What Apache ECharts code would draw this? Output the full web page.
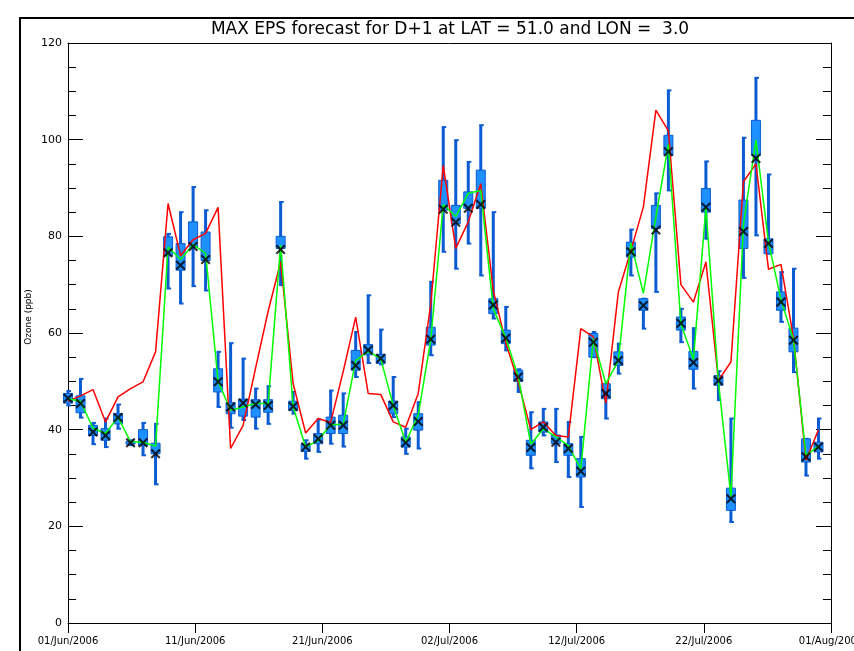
<!DOCTYPE html>
<html><head><meta charset="utf-8">
<script src="https://cdn.jsdelivr.net/npm/echarts@6/dist/echarts.min.js"></script>
<style>html,body{margin:0;padding:0;background:#fff}#c{width:854px;height:651px}</style>
</head><body><div id="c"></div>
<script>
// day index since 01/Jun/2006
const days = [0,1,2,3,4,5,6,7,8,9,10,11,12,13,14,15,16,17,18,19,20,21,22,23,24,25,26,27,28,29,30,
  31,32,33,34,35,36,37,38,39,40,41,42,43,44,45,46,47,48,49,50,51,52,53,54,55,56,57,58,59,60];
const tickLabels = ['01/Jun/2006','11/Jun/2006','21/Jun/2006','02/Jul/2006','12/Jul/2006','22/Jul/2006','01/Aug/2006'];
// observed (red)
const observed = [45.9,47.0,48.3,41.6,46.8,48.5,49.9,56.1,86.8,76.0,79.3,80.6,86.0,36.1,40.9,52.8,64.5,74.7,49.5,39.3,
  42.3,41.5,52.0,63.3,47.5,47.3,41.6,40.5,47.5,66.0,94.7,77.5,83.0,90.9,68.8,58.0,49.8,40.0,41.6,38.8,
  38.5,60.9,59.2,45.5,68.5,77.0,86.1,106.1,101.8,70.0,66.4,74.7,50.2,54.0,91.3,95.0,73.2,74.2,59.0,33.7,40.0];
// ensemble median (green)
const median = [46.4,45.9,40.3,39.2,42.6,37.5,37.4,36.6,77.8,75.2,78.3,76.5,50.0,44.0,44.7,45.4,45.4,78.2,44.7,36.4,
  37.8,41.0,41.1,54.3,56.2,54.7,45.0,37.4,43.0,58.6,86.6,84.1,88.9,89.5,65.0,59.0,50.9,37.0,40.2,38.5,
  36.7,31.9,58.8,49.5,54.3,78.7,68.2,84.0,99.0,61.9,54.5,86.0,49.9,26.2,82.5,99.9,78.8,66.9,58.6,34.7,36.6];
// control forecast (black crosses)
const control = [46.5,45.4,39.5,38.8,42.5,37.3,37.3,35.0,76.6,74.0,77.9,75.2,49.9,44.7,45.5,45.2,45.0,77.3,44.8,36.4,
  38.1,40.9,40.9,53.3,56.5,54.7,45.0,37.3,41.7,58.7,85.6,82.9,85.8,86.6,65.8,58.9,50.9,36.3,40.5,37.4,
  36.1,31.4,58.1,47.5,54.3,76.8,65.7,81.3,97.5,62.0,53.9,86.0,50.1,25.7,81.0,96.1,78.5,66.4,58.5,34.4,36.4];
// box (quartiles) and whiskers
const boxLow = [45.5,43.5,38.8,37.8,41.2,37.0,36.7,35.0,76.0,73.0,77.8,75.0,47.8,43.3,42.8,42.6,43.6,77.5,44.0,35.5,
  37.1,39.2,39.2,52.3,55.5,53.7,43.3,36.4,39.9,57.5,85.4,82.6,85.8,85.8,64.0,57.8,50.0,34.7,39.5,37.1,
  34.7,30.2,55.0,46.4,53.3,75.7,64.7,81.6,96.8,60.6,52.5,85.0,49.2,23.3,77.5,96.8,76.4,64.7,56.1,33.3,35.4];
const boxHigh = [47.5,47.0,40.9,40.2,43.3,37.6,40.0,37.2,79.9,78.5,83.0,80.9,52.6,45.6,46.3,46.2,46.2,80.0,45.9,37.0,
  39.2,42.6,43.0,56.4,57.6,55.6,45.9,38.5,43.3,61.2,91.6,86.4,89.2,93.7,67.1,60.6,52.3,37.8,41.6,38.9,
  37.1,34.0,59.9,49.5,56.1,78.8,67.1,86.4,100.9,63.3,56.2,89.9,51.2,27.9,87.5,104.0,79.5,68.5,61.0,38.1,37.4];
const whiskLow = [45.0,42.5,37.0,36.4,40.2,36.8,34.7,28.7,69.2,66.1,69.7,68.8,44.7,40.4,42.0,40.2,41.2,69.9,43.3,34.0,
  35.4,37.1,36.5,50.9,53.8,53.5,42.6,35.0,36.1,55.4,76.8,73.3,78.5,71.9,63.0,56.4,47.8,32.0,38.8,33.3,
  30.2,24.0,55.0,42.3,51.6,71.9,60.9,68.5,89.5,58.1,48.5,79.5,46.1,20.9,71.4,80.2,76.4,62.3,51.9,30.5,34.0];
const whiskHigh = [48.0,50.5,41.4,42.3,45.2,37.8,41.4,41.2,80.5,85.0,90.2,85.4,56.1,57.9,54.7,48.5,49.0,87.1,47.8,37.8,
  42.1,48.1,47.5,60.2,67.8,60.7,50.9,40.2,45.7,70.6,102.6,99.9,95.4,103.0,85.0,65.4,52.5,43.6,44.3,44.3,
  41.6,38.5,60.2,49.5,57.8,81.4,67.1,88.9,110.2,65.0,61.0,95.5,52.1,42.3,100.4,112.8,92.8,72.6,73.3,38.1,42.3];

const HOURS_PER_DAY = 24;
const xMax = 61 * HOURS_PER_DAY;
const xInterval = xMax / 6;

const chart = echarts.init(document.getElementById('c'), null, {renderer: 'canvas'});
const FONT = 'DejaVu Sans';
const BLUE_DARK = '#0B5BD3';
const BLUE_FILL = '#1E90FF';

function renderBox(params, api) {
  const x = api.value(0);
  const pLo = api.coord([x, api.value(1)]);
  const pQ1 = api.coord([x, api.value(2)]);
  const pQ3 = api.coord([x, api.value(3)]);
  const pHi = api.coord([x, api.value(4)]);
  const cx = pLo[0];
  const bw = 9;
  return {
    type: 'group',
    children: [
      {type: 'line', shape: {x1: cx, y1: pHi[1], x2: cx, y2: pLo[1]}, style: {stroke: BLUE_DARK, lineWidth: 3}},
      {type: 'line', shape: {x1: cx - 1.5, y1: pHi[1], x2: cx + 3, y2: pHi[1]}, style: {stroke: BLUE_DARK, lineWidth: 2}},
      {type: 'line', shape: {x1: cx - 1.5, y1: pLo[1], x2: cx + 3, y2: pLo[1]}, style: {stroke: BLUE_DARK, lineWidth: 2}},
      {type: 'rect', shape: {x: cx - bw / 2, y: pQ3[1], width: bw, height: Math.max(1, pQ1[1] - pQ3[1])},
       style: {fill: BLUE_FILL, stroke: BLUE_DARK, lineWidth: 1}}
    ]
  };
}

const yAxisCommon = {
  type: 'value', min: 0, max: 120, interval: 20,
  axisLine: {show: true, onZero: false, lineStyle: {color: '#000', width: 1}},
  axisTick: {show: true, inside: true, length: 15, lineStyle: {color: '#000', width: 1}},
  minorTick: {show: true, splitNumber: 4, length: 8, lineStyle: {color: '#000', width: 1}},
  splitLine: {show: false}, minorSplitLine: {show: false}
};

const option = {
  animation: false,
  backgroundColor: '#ffffff',
  grid: {left: 68, right: 23, top: 43, bottom: 28, containLabel: false, outerBoundsMode: 'none'},
  xAxis: [
    {
      type: 'value', position: 'bottom', min: 0, max: xMax, interval: xInterval,
      axisLine: {show: true, onZero: false, lineStyle: {color: '#000', width: 1}},
      axisTick: {show: true, inside: false, length: 10, lineStyle: {color: '#000', width: 1}},
      axisLabel: {
        show: true, margin: 13, color: '#000', fontFamily: FONT, fontSize: 10,
        showMinLabel: true, showMaxLabel: true, hideOverlap: false,
        formatter: function (v) { return tickLabels[Math.round(v / xInterval)] || ''; }
      },
      splitLine: {show: false}
    },
    {
      type: 'value', position: 'top', min: 0, max: xMax,
      axisLine: {show: true, onZero: false, lineStyle: {color: '#000', width: 1}},
      axisTick: {show: false}, axisLabel: {show: false}, splitLine: {show: false}
    }
  ],
  yAxis: [
    Object.assign({}, yAxisCommon, {
      position: 'left',
      axisLabel: {show: true, margin: 6, color: '#000', fontFamily: FONT, fontSize: 11}
    }),
    Object.assign({}, yAxisCommon, {position: 'right', axisLabel: {show: false}})
  ],
  graphic: [
    {type: 'rect', silent: true, z: -1, shape: {x: 20, y: 18, width: 900, height: 700},
     style: {fill: 'none', stroke: '#000', lineWidth: 2}},
    {type: 'text', silent: true, x: 450, y: 30,
     style: {text: 'MAX EPS forecast for D+1 at LAT = 51.0 and LON =  3.0', fill: '#000',
             font: '17px "DejaVu Sans"', textAlign: 'center', textVerticalAlign: 'middle'}},
    {type: 'text', silent: true, x: 29, y: 317, rotation: Math.PI / 2,
     style: {text: 'Ozone (ppb)', fill: '#000', font: '9px "DejaVu Sans"', textAlign: 'center', textVerticalAlign: 'middle'}}
  ],
  series: [
    {
      type: 'custom', name: 'ensemble', xAxisIndex: 0, yAxisIndex: 0, z: 2,
      renderItem: renderBox,
      encode: {x: 0, y: [1, 2, 3, 4]},
      data: days.map((d, i) => [d * HOURS_PER_DAY, whiskLow[i], boxLow[i], boxHigh[i], whiskHigh[i]])
    },
    {
      type: 'line', name: 'observed', z: 3, symbol: 'none', smooth: false,
      lineStyle: {color: '#FF0000', width: 1.5},
      data: days.map((d, i) => [d * HOURS_PER_DAY, observed[i]])
    },
    {
      type: 'line', name: 'median', z: 4, symbol: 'none', smooth: false,
      lineStyle: {color: '#00FF00', width: 1.5},
      data: days.map((d, i) => [d * HOURS_PER_DAY, median[i]])
    },
    {
      type: 'scatter', name: 'control', z: 5,
      symbol: 'path://M0,1.5 L1.5,0 L5,3.5 L8.5,0 L10,1.5 L6.5,5 L10,8.5 L8.5,10 L5,6.5 L1.5,10 L0,8.5 L3.5,5 Z',
      symbolSize: 10,
      itemStyle: {color: '#000'},
      data: days.map((d, i) => [d * HOURS_PER_DAY, control[i]])
    }
  ]
};
chart.setOption(option);
</script>
</body></html>
